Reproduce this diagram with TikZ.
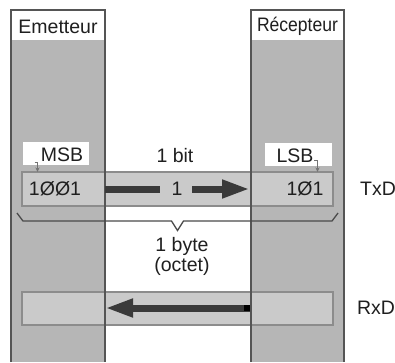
\documentclass[tikz,border=0pt]{standalone}
\usepackage{fontspec}
\usepackage{graphicx}
\setmainfont{Liberation Sans}
\usetikzlibrary{arrows.meta}
\definecolor{colg}{HTML}{B6B6B6}
\definecolor{barg}{HTML}{CACACA}
\definecolor{barb}{HTML}{8C8C8C}
\definecolor{colb}{HTML}{555555}
\definecolor{shaftc}{HTML}{3A3A3A}
\definecolor{bracec}{HTML}{4A4A4A}
\begin{document}
\begin{tikzpicture}[x=1pt,y=-1pt,
  font=\fontsize{19.5}{22}\selectfont,
  txt/.style={inner sep=0pt, text=black!88},
  colfill/.style={fill=colg},
  colline/.style={draw=colb, line width=1.3pt},
  barbox/.style={fill=barg, draw=barb, line width=1.6pt},
  shaft/.style={draw=shaftc, line width=7pt},
  bigarrow/.style={draw=shaftc, line width=7pt, -{Triangle[length=28pt,width=17pt]}},
  smallarrow/.style={draw=black!55, line width=1pt, -{Stealth[length=4.5pt,width=4pt]}},
  bracestyle/.style={draw=bracec, line width=1.3pt, line join=miter}]
\useasboundingbox (0,0) rectangle (395,362);
\fill[white] (0,0) rectangle (395,362);
% columns
\fill[colfill] (11,10) rectangle (105,362);
\fill[white] (11,10) rectangle (105,40);
\fill[colfill] (251,10) rectangle (344,362);
\fill[white] (251,10) rectangle (344,40);
% bars
\draw[barbox] (22,172) rectangle (333,206);
\draw[barbox] (22,292) rectangle (333,325);
% column borders on top
\draw[colline] (11,362) -- (11,10) -- (105,10) -- (105,362);
\draw[colline] (251,362) -- (251,10) -- (344,10) -- (344,362);
% headers
\node[txt] (em) at (58,26.5) {Emetteur};
\node[txt] (rec) at (297.5,26.5) {\scalebox{0.9}[1]{Récepteur}};
% label boxes
\fill[white] (23,142) rectangle (89,165);
\fill[white] (265,143) rectangle (332,166);
\node[txt] (msb) at (62,155) {MSB};
\node[txt] (lsb) at (295,156) {LSB};
% small arrows
\coordinate (msbt0) at (34.5,162);
\coordinate (msbt1) at (37.5,162);
\coordinate (msbt2) at (37.5,172);
\draw[smallarrow] (msbt0) -- (msbt1) -- (msbt2);
\coordinate (lsbt0) at (314,160);
\coordinate (lsbt1) at (317.5,160);
\coordinate (lsbt2) at (317.5,172);
\draw[smallarrow] (lsbt0) -- (lsbt1) -- (lsbt2);
% texts
\node[txt] (bits) at (55,189) {1ØØ1};
\node[txt] (bitr) at (305,189) {1Ø1};
\node[txt] (txd) at (378,189) {TxD};
\node[txt] (rxd) at (376,308) {RxD};
\node[txt] (onebit) at (175,156) {1 bit};
\node[txt] (one) at (177,189) {1};
\node[txt] (byte) at (182,246) {1 byte};
\node[txt] (octet) at (182,266) {(octet)};
% TxD arrow
\coordinate (ta0) at (105,189);
\coordinate (ta1) at (160,189);
\coordinate (ta2) at (192,189);
\coordinate (ta3) at (250,189);
\draw[shaft] (ta0) -- (ta1);
\draw[bigarrow] (ta2) -- (ta3);
% RxD arrow
\coordinate (ra0) at (250,308);
\coordinate (ra1) at (105,308);
\draw[bigarrow] (ra0) -- (ra1);
\fill[black] (244,305) rectangle (250,311);
% brace
\draw[bracestyle] (17,213) -- (23,221) -- (171.5,221) -- (177.5,230.5) -- (183.5,221) -- (332,221) -- (338,213);
\end{tikzpicture}
\end{document}
